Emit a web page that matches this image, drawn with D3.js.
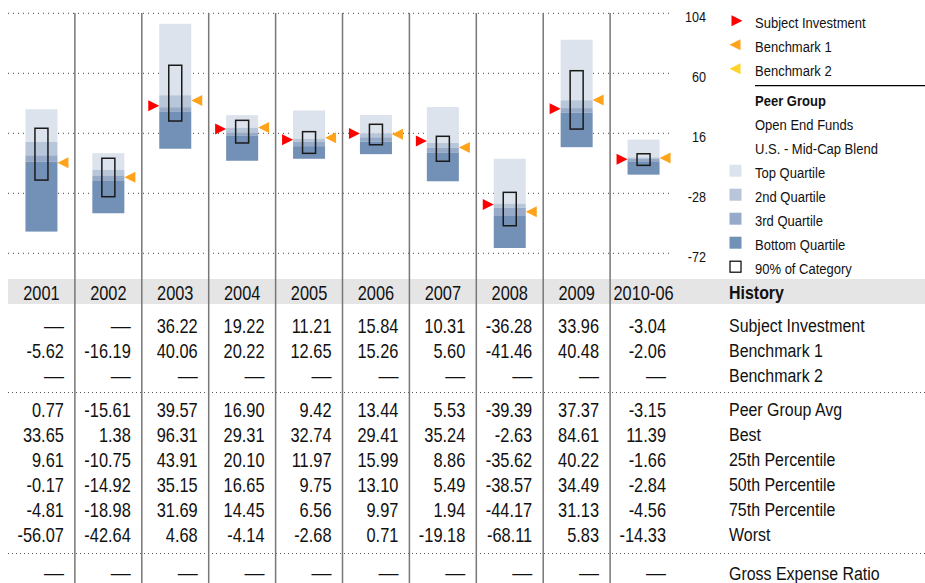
<!DOCTYPE html>
<html>
<head>
<meta charset="utf-8">
<script src="https://cdn.jsdelivr.net/npm/d3@7"></script>
<style>
  body { margin: 0; background: #fff; }
  svg { display: block; }
  text { font-family: "Liberation Sans", Arial, sans-serif; fill: #111; }
</style>
</head>
<body>
<div id="chart"></div>
<script>
// Peer group history chart: quartile bars + return table

const years = ["2001", "2002", "2003", "2004", "2005", "2006", "2007", "2008", "2009", "2010-06"];
const subject = [null, null, 36.22, 19.22, 11.21, 15.84, 10.31, -36.28, 33.96, -3.04];
const bench1 = [-5.62, -16.19, 40.06, 20.22, 12.65, 15.26, 5.60, -41.46, 40.48, -2.06];
const bench2 = [null, null, null, null, null, null, null, null, null, null];
const peerAvg = [0.77, -15.61, 39.57, 16.90, 9.42, 13.44, 5.53, -39.39, 37.37, -3.15];
const best = [33.65, 1.38, 96.31, 29.31, 32.74, 29.41, 35.24, -2.63, 84.61, 11.39];
const pct25 = [9.61, -10.75, 43.91, 20.10, 11.97, 15.99, 8.86, -35.62, 40.22, -1.66];
const pct50 = [-0.17, -14.92, 35.15, 16.65, 9.75, 13.10, 5.49, -38.57, 34.49, -2.84];
const pct75 = [-4.81, -18.98, 31.69, 14.45, 6.56, 9.97, 1.94, -44.17, 31.13, -4.56];
const worst = [-56.07, -42.64, 4.68, -4.14, -2.68, 0.71, -19.18, -68.11, 5.83, -14.33];
// 90% of category box
const pct5 = [19.7, -2.3, 65.9, 25.5, 17.2, 22.6, 13.8, -27.3, 61.9, 1.0];
const pct95 = [-18.3, -30.5, 25.0, 8.9, 1.3, 7.6, -4.5, -51.8, 19.1, -7.5];
const expense = [null, null, null, null, null, null, null, null, null, null];
const yTicks = [104, 60, 16, -28, -72];

const legendItems = ["Subject Investment", "Benchmark 1", "Benchmark 2"];
const peerLines = ["Open End Funds", "U.S. - Mid-Cap Blend"];
const quartileNames = ["Top Quartile", "2nd Quartile", "3rd Quartile", "Bottom Quartile"];

const width = 925, height = 583;
const quartileColors = ["#dce3ec", "#b8c6d9", "#97abc8", "#7390b6"];
const arrowColors = ["#ff0000", "#ffa31a", "#ffd42a"];

const svg = d3.select("#chart").append("svg")
    .attr("width", width)
    .attr("height", height);

const x = d3.scaleBand().domain(years).range([8, 677]).padding(0);
const y = d3.scaleLinear().domain([-72, 104]).range([253.3, 13.3]);
const bw = x.bandwidth();
const cx = d => x(d) + bw / 2;

// condensed text helper (no narrow face installed, so squeeze horizontally)
function label(g, tx, ty, str, size, anchor, bold, sx) {
    return g.append("text")
        .attr("transform", `translate(${tx},${ty}) scale(${sx || 0.84},1)`)
        .attr("text-anchor", anchor || "start")
        .attr("dy", "0.36em")
        .style("font-size", size + "px")
        .style("font-weight", bold ? "bold" : "normal")
        .text(str);
}

// dotted gridlines
svg.append("g").selectAll("line")
    .data(yTicks)
    .enter().append("line")
    .attr("x1", 8).attr("x2", 673)
    .attr("y1", d => y(d)).attr("y2", d => y(d))
    .attr("stroke", "#444")
    .attr("stroke-width", 1)
    .attr("stroke-dasharray", "1,4");

const axisG = svg.append("g");
yTicks.forEach(t => label(axisG, 706, y(t) + 3, t, 15, "end"));

// quartile bars
const barW = 32, boxW = 13, arrowW = 11, arrowH = 11;
const bars = svg.append("g");
years.forEach((yr, i) => {
    const segs = [
        [best[i], pct25[i]],
        [pct25[i], pct50[i]],
        [pct50[i], pct75[i]],
        [pct75[i], worst[i]]
    ];
    segs.forEach((s, k) => {
        bars.append("rect")
            .attr("x", cx(yr) - barW / 2)
            .attr("width", barW)
            .attr("y", y(s[0]))
            .attr("height", y(s[1]) - y(s[0]))
            .attr("fill", quartileColors[k]);
    });
    bars.append("rect")
        .attr("x", cx(yr) - boxW / 2)
        .attr("width", boxW)
        .attr("y", y(pct5[i]))
        .attr("height", y(pct95[i]) - y(pct5[i]))
        .attr("fill", "none")
        .attr("stroke", "#1a1a1a")
        .attr("stroke-width", 1.5);

    if (subject[i] != null) {
        const tip = cx(yr) - barW / 2, yy = y(subject[i]);
        bars.append("path")
            .attr("d", `M${tip},${yy} L${tip - arrowW},${yy - arrowH / 2} L${tip - arrowW},${yy + arrowH / 2} Z`)
            .attr("fill", arrowColors[0]);
    }
    [bench1, bench2].forEach((b, k) => {
        if (b[i] == null) return;
        const tip = cx(yr) + barW / 2, yy = y(b[i]);
        bars.append("path")
            .attr("d", `M${tip},${yy} L${tip + arrowW},${yy - arrowH / 2} L${tip + arrowW},${yy + arrowH / 2} Z`)
            .attr("fill", arrowColors[k + 1]);
    });
});

// legend
const leg = svg.append("g");
legendItems.forEach((name, i) => {
    const ly = 22.7 + i * 24;
    const d = i === 0
        ? `M742.5,${ly - 2} L731.5,${ly - 7.5} L731.5,${ly + 3.5} Z`
        : `M729.5,${ly - 2} L740.5,${ly - 7.5} L740.5,${ly + 3.5} Z`;
    leg.append("path").attr("d", d).attr("fill", arrowColors[i]);
    label(leg, 755, ly, name, 15.5);
});
leg.append("line")
    .attr("x1", 755).attr("x2", 925)
    .attr("y1", 85.7).attr("y2", 85.7)
    .attr("stroke", "#000").attr("stroke-width", 1.2);
label(leg, 755, 100.7, "Peer Group", 15.5, "start", true);
peerLines.forEach((s, i) => label(leg, 755, 124.7 + i * 24, s, 15.5));
quartileNames.forEach((s, i) => {
    const ly = 172.7 + i * 24;
    leg.append("rect")
        .attr("x", 729.5).attr("y", ly - 8)
        .attr("width", 12).attr("height", 12)
        .attr("fill", quartileColors[i]);
    label(leg, 755, ly, s, 15.5);
});
leg.append("rect")
    .attr("x", 730).attr("y", 268.7 - 7.5)
    .attr("width", 11).attr("height", 11)
    .attr("fill", "#fff").attr("stroke", "#000").attr("stroke-width", 1.2);
label(leg, 755, 268.7, "90% of Category", 15.5);

// history table
const tbl = svg.append("g");
tbl.append("rect")
    .attr("x", 8).attr("y", 279)
    .attr("width", width - 8).attr("height", 25)
    .attr("fill", "#e5e5e5");

[392.5, 553.5].forEach(ly => {
    tbl.append("line")
        .attr("x1", 8).attr("x2", width)
        .attr("y1", ly).attr("y2", ly)
        .attr("stroke", "#555")
        .attr("stroke-dasharray", "1,3");
});

years.forEach(yr => label(tbl, cx(yr), 292.5, yr, 20, "middle", false, 0.82));
label(tbl, 729, 292.5, "History", 19, "start", true);

const rows = [
    { name: "Subject Investment", vals: subject, y: 325.5 },
    { name: "Benchmark 1", vals: bench1, y: 350.5 },
    { name: "Benchmark 2", vals: bench2, y: 375.5 },
    { name: "Peer Group Avg", vals: peerAvg, y: 409.5 },
    { name: "Best", vals: best, y: 434.5 },
    { name: "25th Percentile", vals: pct25, y: 459.5 },
    { name: "50th Percentile", vals: pct50, y: 484.5 },
    { name: "75th Percentile", vals: pct75, y: 509.5 },
    { name: "Worst", vals: worst, y: 534.5 },
    { name: "Gross Expense Ratio", vals: expense, y: 573 }
];
rows.forEach(r => {
    years.forEach((yr, i) => {
        const v = r.vals[i];
        if (v == null) {
            label(tbl, x(yr) + bw - 11, r.y, "\u2014", 20, "end", false, 1);
        } else {
            label(tbl, x(yr) + bw - 11, r.y, v.toFixed(2), 20, "end", false, 0.82);
        }
    });
    label(tbl, 729, r.y, r.name, 19);
});

// column separators
svg.append("g").selectAll("line")
    .data(years.slice(1))
    .enter().append("line")
    .attr("x1", d => x(d)).attr("x2", d => x(d))
    .attr("y1", 13).attr("y2", height)
    .attr("stroke", "#777")
    .attr("stroke-width", 1.5);
</script>
</body>
</html>
